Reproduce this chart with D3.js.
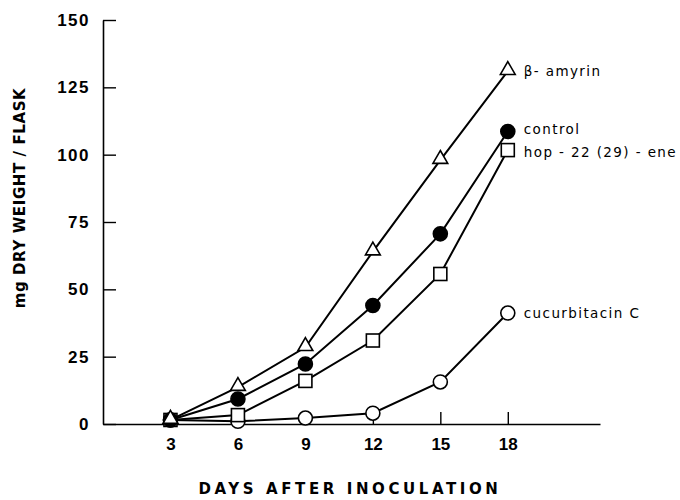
<!DOCTYPE html>
<html>
<head>
<meta charset="utf-8">
<script src="https://cdn.jsdelivr.net/npm/d3@7"></script>
<style>
  body { margin: 0; background: #fff; }
  svg { display: block; font-family: "DejaVu Sans", sans-serif; }
</style>
</head>
<body>
<div id="container"></div>
<script>
"use strict";

// data
const days = [3, 6, 9, 12, 15, 18];
const betaAmyrin = [1.5, 13.7, 28.5, 64, 98, 131];
const control = [1.5, 9.3, 22.3, 44, 70.6, 108.6];
const hopene = [1.5, 3.3, 16, 31, 55.7, 101.7];
const cucurbitacin = [1.5, 1, 2.2, 4, 15.6, 41.2];
const yTicks = [0, 25, 50, 75, 100, 125, 150];

const series = [
    { name: "cucurbitacin C", values: cucurbitacin, marker: "circle", fill: "#fff", dy: 0 },
    { name: "hop - 22 (29) - ene", values: hopene, marker: "square", fill: "#fff", dy: 2 },
    { name: "control", values: control, marker: "circle", fill: "#000", dy: -2 },
    { name: "\u03b2- amyrin", values: betaAmyrin, marker: "triangle", fill: "#fff", dy: 0 },
];

const width = 680, height = 500;

const svg = d3.select("#container")
    .append("svg")
    .attr("width", width)
    .attr("height", height);

// scales
const x = d3.scaleLinear().domain([0, 22.1]).range([103, 600]);
const y = d3.scaleLinear().domain([0, 150]).range([424, 20]);

// y axis, ticks pointing inward
const yAxis = svg.append("g")
    .attr("transform", `translate(${x(0)},0)`)
    .call(d3.axisLeft(y).tickValues(yTicks).tickSize(-13).tickSizeOuter(0).tickPadding(13));
yAxis.selectAll("text")
    .style("font-size", "17px")
    .style("font-weight", "bold")
    .style("letter-spacing", "1.5px")
    .attr("fill", "#000");

// x axis
const xAxis = svg.append("g")
    .attr("transform", `translate(0,${y(0)})`)
    .call(d3.axisBottom(x).tickValues(days).tickSize(-12).tickSizeOuter(0).tickPadding(14));
xAxis.selectAll("text")
    .style("font-size", "17px")
    .style("font-weight", "bold")
    .attr("fill", "#000");

svg.selectAll(".domain").attr("stroke", "#000").attr("stroke-width", 1.6);
svg.selectAll(".tick line").attr("stroke", "#000").attr("stroke-width", 1.4);

// lines
const line = d3.line()
    .x((d, i) => x(days[i]))
    .y((d) => y(d));

svg.selectAll(".series-line")
    .data(series)
    .join("path")
    .attr("class", "series-line")
    .attr("d", (d) => line(d.values))
    .attr("fill", "none")
    .attr("stroke", "#000")
    .attr("stroke-width", 2);

// markers
const triangle = d3.symbol().type(d3.symbolTriangle).size(95);
series.forEach((s) => {
    const g = svg.append("g");
    const pts = s.values.map((v, i) => ({ x: x(days[i]), y: y(v) }));
    if (s.marker === "circle") {
        g.selectAll("circle").data(pts).join("circle")
            .attr("cx", (d) => d.x).attr("cy", (d) => d.y).attr("r", 7)
            .attr("fill", s.fill).attr("stroke", "#000").attr("stroke-width", 1.6);
    } else if (s.marker === "square") {
        g.selectAll("rect").data(pts).join("rect")
            .attr("x", (d) => d.x - 6.5).attr("y", (d) => d.y - 6.5)
            .attr("width", 13).attr("height", 13)
            .attr("fill", s.fill).attr("stroke", "#000").attr("stroke-width", 1.6);
    } else {
        g.selectAll("path").data(pts).join("path")
            .attr("d", triangle)
            .attr("transform", (d) => `translate(${d.x},${d.y - 1})`)
            .attr("fill", s.fill).attr("stroke", "#000").attr("stroke-width", 1.6);
    }
    // series label at the end of the line
    const last = s.values.length - 1;
    svg.append("text")
        .attr("x", x(days[last]) + 16)
        .attr("y", y(s.values[last]) + s.dy)
        .attr("dy", "0.35em")
        .style("font-size", "13.5px")
        .style("letter-spacing", "1.4px")
        .text(s.name);
});

// axis titles
svg.append("text")
    .attr("transform", `translate(20,198) rotate(-90)`)
    .attr("text-anchor", "middle")
    .attr("dy", "0.35em")
    .style("font-size", "15px")
    .style("font-weight", "bold")
    .style("letter-spacing", "0.6px")
    .text("mg DRY WEIGHT / FLASK");

svg.append("text")
    .attr("x", 350)
    .attr("y", 489)
    .attr("text-anchor", "middle")
    .attr("dy", "0.35em")
    .style("font-size", "15px")
    .style("font-weight", "bold")
    .style("letter-spacing", "3.6px")
    .text("DAYS AFTER INOCULATION");
</script>
</body>
</html>
